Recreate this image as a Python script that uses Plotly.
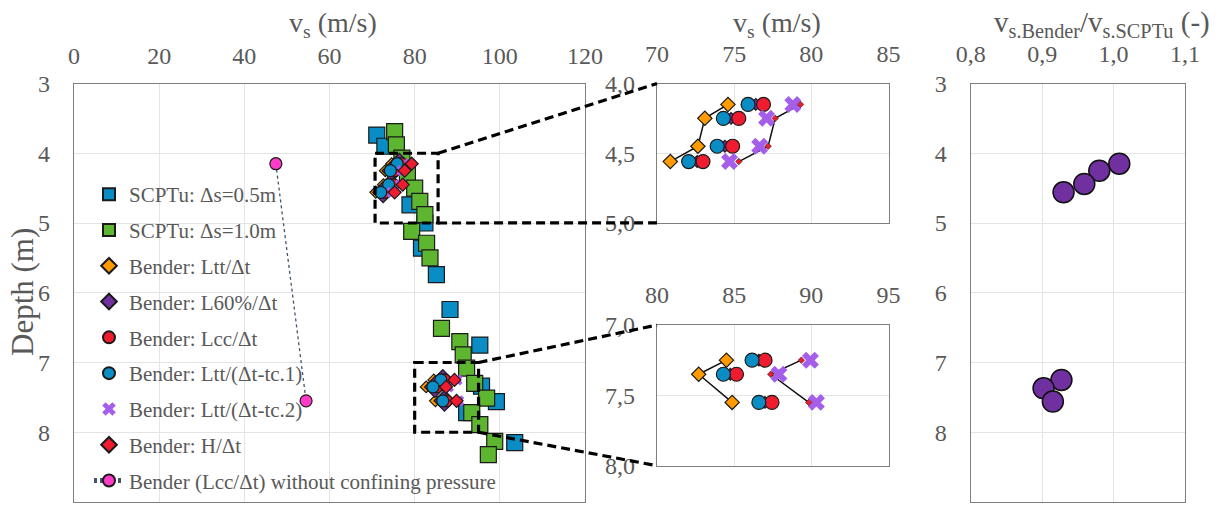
import plotly.graph_objects as go

# ---------------- data ----------------
scptu05_depth = [3.74, 3.90, 4.74, 5.00, 5.36, 5.74, 6.24, 6.75, 7.34, 7.56, 7.72, 8.15]
scptu05_vs = [71.1, 73.0, 78.9, 82.4, 81.6, 85.1, 88.3, 95.3, 95.7, 99.2, 92.2, 103.5]

scptu10_depth = [3.69, 3.88, 4.07, 4.29, 4.50, 4.69, 4.88, 5.12, 5.29, 5.50,
                 6.51, 6.70, 6.89, 7.08, 7.30, 7.51, 7.72, 7.89, 8.13, 8.32]
scptu10_vs = [75.3, 75.7, 77.0, 78.3, 80.0, 81.2, 82.4, 79.3, 82.8, 83.6,
              86.3, 90.6, 91.4, 92.2, 94.1, 96.9, 93.4, 95.3, 98.8, 97.3]

bender_depth = [4.15, 4.25, 4.45, 4.56, 7.25, 7.35, 7.55]
n_upper = 4
vs_ltt = [74.6, 73.1, 72.65, 70.86, 84.5, 82.7, 84.87]
vs_l60 = [76.4, 74.8, 74.4, 72.6, 86.6, 84.75, 87.0]
vs_lcc = [76.9, 75.3, 74.9, 72.98, 87.0, 85.15, 87.45]
vs_tc1 = [75.9, 74.3, 73.9, 72.05, 86.16, 84.3, 86.6]
vs_tc2 = [78.8, 77.1, 76.65, 74.7, 89.94, 87.9, 90.33]
vs_h = [79.3, 77.66, 77.2, 75.3, 89.35, 87.37, 89.83]

noconf_depth = [4.15, 7.55]
noconf_vs = [47.4, 54.5]

ratio_depth = [4.15, 4.25, 4.44, 4.56, 7.25, 7.37, 7.56]
ratio_vals = [1.008, 0.980, 0.959, 0.930, 0.927, 0.902, 0.915]

main_x_ticks = [0, 20, 40, 60, 80, 100, 120]
depth_ticks = [3, 4, 5, 6, 7, 8, 9]
inset1_x_ticks = [70, 75, 80, 85]
inset1_y_ticks = [4.0, 4.5, 5.0]
inset2_x_ticks = [80, 85, 90, 95]
inset2_y_ticks = [7.0, 7.5, 8.0]
ratio_ticks = [0.8, 0.9, 1.0, 1.1]

zoom_upper_x = [70.7, 85.5]
zoom_upper_y = [4.0, 5.0]
zoom_lower_x = [80.0, 95.0]
zoom_lower_y = [7.0, 8.0]

# ---------------- layout geometry ----------------
W, H = 1223, 511
main_xdom = [74 / W, 585 / W]
main_ydom = [1 - 502 / H, 1 - 83.5 / H]
ins_xdom = [657 / W, 888.5 / W]
ins1_ydom = [1 - 222.9 / H, 1 - 83.5 / H]
ins2_ydom = [1 - 465.7 / H, 1 - 325 / H]
rat_xdom = [970.7 / W, 1185 / W]

main_xr = [0, 120]
main_yr = [9, 3]
ins1_xr = [70, 85]
ins1_yr = [5, 4]
ins2_xr = [80, 95]
ins2_yr = [8, 7]
rat_xr = [0.8, 1.1]

FONT = "Liberation Serif"
GREY = "#595959"

c_blue = "#0A8CC4"
c_green = "#5DB530"
c_orange = "#FF9A00"
c_purple = "#7030A0"
c_red = "#EE1C2E"
c_violet = "#A55EEA"
c_pink = "#FF3CC8"
OUT = dict(color="#1a1a1a", width=1.2)


def split(v):
    return list(v[:n_upper]) + [None] + list(v[n_upper:])


def to_paper(dom, rng, v):
    return dom[0] + (v - rng[0]) / (rng[1] - rng[0]) * (dom[1] - dom[0])


fig = go.Figure()

# ---------------- main plot ----------------
fig.add_trace(go.Scatter(x=scptu05_vs, y=scptu05_depth, mode="markers", name="SCPTu: Δs=0.5m",
                         legendgroup="a",
                         marker=dict(symbol="square", size=16, color=c_blue, line=OUT)))
fig.add_trace(go.Scatter(x=scptu10_vs, y=scptu10_depth, mode="markers", name="SCPTu: Δs=1.0m",
                         legendgroup="b",
                         marker=dict(symbol="square", size=16, color=c_green, line=OUT)))
fig.add_trace(go.Scatter(x=vs_ltt, y=bender_depth, mode="markers", name="Bender: Ltt/Δt",
                         legendgroup="c",
                         marker=dict(symbol="diamond", size=9, color=c_orange, line=OUT)))
fig.add_trace(go.Scatter(x=vs_l60, y=bender_depth, mode="markers", name="Bender: L60%/Δt",
                         legendgroup="d",
                         marker=dict(symbol="diamond", size=16, color=c_purple, line=OUT)))
fig.add_trace(go.Scatter(x=vs_lcc, y=bender_depth, mode="markers", name="Bender: Lcc/Δt",
                         legendgroup="e",
                         marker=dict(symbol="circle", size=12, color=c_red, line=OUT)))
fig.add_trace(go.Scatter(x=vs_tc1, y=bender_depth, mode="markers", name="Bender: Ltt/(Δt-tc.1)",
                         legendgroup="f",
                         marker=dict(symbol="circle", size=12, color=c_blue, line=OUT)))
fig.add_trace(go.Scatter(x=vs_tc2, y=bender_depth, mode="markers", name="Bender: Ltt/(Δt-tc.2)",
                         legendgroup="g",
                         marker=dict(symbol="x", size=10, color=c_violet, line=dict(width=0))))
fig.add_trace(go.Scatter(x=vs_h, y=bender_depth, mode="markers", name="Bender: H/Δt",
                         legendgroup="h",
                         marker=dict(symbol="diamond", size=10, color=c_red, line=OUT)))
fig.add_trace(go.Scatter(x=noconf_vs, y=noconf_depth, mode="lines+markers",
                         name="Bender (Lcc/Δt) without confining pressure",
                         legendgroup="i",
                         line=dict(color="#44546A", width=1.3, dash="3px,3px"),
                         marker=dict(symbol="circle", size=12, color=c_pink, line=OUT)))

# ---------------- insets ----------------
for xa, ya in (("x2", "y2"), ("x3", "y3")):
    fig.add_trace(go.Scatter(x=split(vs_ltt), y=split(bender_depth), xaxis=xa, yaxis=ya,
                             mode="lines+markers", showlegend=False, connectgaps=False,
                             line=dict(color="#111111", width=1.5),
                             marker=dict(symbol="diamond", size=11, color=c_orange, line=OUT)))
    fig.add_trace(go.Scatter(x=vs_l60, y=bender_depth, xaxis=xa, yaxis=ya, mode="markers",
                             showlegend=False,
                             marker=dict(symbol="diamond", size=9, color=c_purple, line=OUT)))
    fig.add_trace(go.Scatter(x=vs_lcc, y=bender_depth, xaxis=xa, yaxis=ya, mode="markers",
                             showlegend=False,
                             marker=dict(symbol="circle", size=14, color=c_red, line=OUT)))
    fig.add_trace(go.Scatter(x=vs_tc1, y=bender_depth, xaxis=xa, yaxis=ya, mode="markers",
                             showlegend=False,
                             marker=dict(symbol="circle", size=14, color=c_blue, line=OUT)))
    fig.add_trace(go.Scatter(x=split(vs_h), y=split(bender_depth), xaxis=xa, yaxis=ya,
                             mode="lines", showlegend=False, connectgaps=False,
                             line=dict(color="#111111", width=1.5)))
    fig.add_trace(go.Scatter(x=vs_tc2, y=bender_depth, xaxis=xa, yaxis=ya, mode="markers",
                             showlegend=False,
                             marker=dict(symbol="x", size=15, color=c_violet, line=dict(width=0))))
    fig.add_trace(go.Scatter(x=vs_h, y=bender_depth, xaxis=xa, yaxis=ya, mode="markers",
                             showlegend=False,
                             marker=dict(symbol="diamond", size=5, color=c_red,
                                         line=dict(color="#1a1a1a", width=0.6))))

# ---------------- ratio plot ----------------
fig.add_trace(go.Scatter(x=ratio_vals, y=ratio_depth, xaxis="x4", yaxis="y4", mode="markers",
                         showlegend=False,
                         marker=dict(symbol="circle", size=21, color=c_purple,
                                     line=dict(color="#111111", width=1.5))))

# ---------------- axes ----------------
base = dict(showline=True, mirror=True, linecolor="#7f7f7f", linewidth=1.3,
            showgrid=True, gridcolor="#e4e4e4", gridwidth=1, zeroline=False, ticks="",
            tickfont=dict(family=FONT, size=24, color=GREY))

fig.update_layout(
    xaxis=dict(base, domain=main_xdom, range=main_xr, tickvals=main_x_ticks, side="top",
               anchor="y", ticklabelstandoff=9),
    yaxis=dict(base, domain=main_ydom, range=main_yr, tickvals=depth_ticks, anchor="x",
               ticklabelstandoff=18),
    xaxis2=dict(base, domain=ins_xdom, range=ins1_xr, tickvals=inset1_x_ticks, side="top",
                anchor="y2", ticklabelstandoff=11),
    yaxis2=dict(base, domain=ins1_ydom, range=ins1_yr, tickvals=inset1_y_ticks, tickformat=".1f",
                anchor="x2", ticklabelstandoff=16),
    xaxis3=dict(base, domain=ins_xdom, range=ins2_xr, tickvals=inset2_x_ticks, side="top",
                anchor="y3", ticklabelstandoff=11),
    yaxis3=dict(base, domain=ins2_ydom, range=ins2_yr, tickvals=inset2_y_ticks, tickformat=".1f",
                anchor="x3", ticklabelstandoff=16),
    xaxis4=dict(base, domain=rat_xdom, range=rat_xr, tickvals=ratio_ticks, tickformat=".1f",
                side="top", anchor="y4", ticklabelstandoff=11),
    yaxis4=dict(base, domain=main_ydom, range=main_yr, tickvals=depth_ticks, anchor="x4",
                ticklabelstandoff=18),
)

# ---------------- zoom boxes and connectors ----------------
DASH = dict(color="black", width=3.2, dash="9px,5px")
shapes = [
    dict(type="rect", xref="x", yref="y", x0=zoom_upper_x[0], x1=zoom_upper_x[1],
         y0=zoom_upper_y[0], y1=zoom_upper_y[1], line=DASH, layer="above"),
    dict(type="rect", xref="x", yref="y", x0=zoom_lower_x[0], x1=zoom_lower_x[1],
         y0=zoom_lower_y[0], y1=zoom_lower_y[1], line=DASH, layer="above"),
]
for zx, zy, idom in ((zoom_upper_x, zoom_upper_y, ins1_ydom), (zoom_lower_x, zoom_lower_y, ins2_ydom)):
    px = to_paper(main_xdom, main_xr, zx[1])
    shapes.append(dict(type="line", xref="paper", yref="paper",
                       x0=px, y0=to_paper(main_ydom, main_yr, zy[0]),
                       x1=ins_xdom[0], y1=idom[1], line=DASH, layer="above"))
    shapes.append(dict(type="line", xref="paper", yref="paper",
                       x0=px, y0=to_paper(main_ydom, main_yr, zy[1]),
                       x1=ins_xdom[0], y1=idom[0], line=DASH, layer="above"))

# ---------------- titles ----------------
tfont = dict(family=FONT, size=28, color=GREY)
annotations = [
    dict(text="v<sub>s</sub> (m/s)", x=333 / W, y=1 - 24 / H, xref="paper", yref="paper",
         showarrow=False, font=tfont, xanchor="center", yanchor="middle"),
    dict(text="v<sub>s</sub> (m/s)", x=777 / W, y=1 - 24 / H, xref="paper", yref="paper",
         showarrow=False, font=tfont, xanchor="center", yanchor="middle"),
    dict(text="v<sub>s.Bender</sub>/v<sub>s.SCPTu</sub> (-)", x=1102 / W, y=1 - 24 / H,
         xref="paper", yref="paper", showarrow=False,
         font=dict(family=FONT, size=29, color=GREY),
         xanchor="center", yanchor="middle"),
    dict(text="Depth (m)", x=22 / W, y=1 - 292 / H, xref="paper", yref="paper",
         showarrow=False, textangle=-90, font=dict(family=FONT, size=31, color=GREY),
         xanchor="center", yanchor="middle"),
]

fig.update_layout(
    width=W, height=H,
    margin=dict(l=0, r=0, t=0, b=0, autoexpand=False),
    paper_bgcolor="white", plot_bgcolor="white",
    separators=", ",
    font=dict(family=FONT, color=GREY),
    shapes=shapes,
    annotations=annotations,
    legend=dict(x=89 / W, y=1 - 174 / H, xanchor="left", yanchor="top",
                bgcolor="rgba(0,0,0,0)", font=dict(family=FONT, size=21, color=GREY),
                tracegroupgap=5.5, itemsizing="constant"),
    showlegend=True,
)

fig.write_html("out.html", config={"displayModeBar": False},
               post_script="document.body.style.margin='0';document.body.style.padding='0';")
